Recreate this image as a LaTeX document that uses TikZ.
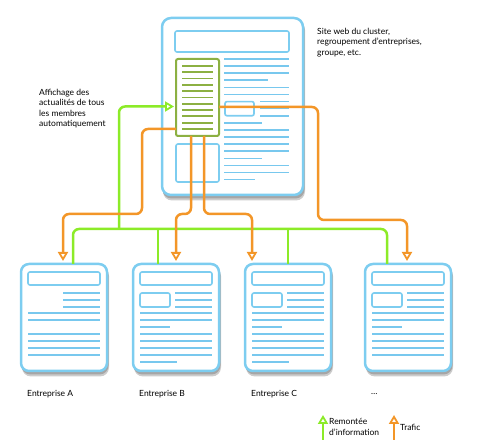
\documentclass[tikz,border=0pt]{standalone}
\usepackage{fontspec}
\setmainfont{Lato}
\usetikzlibrary{arrows.meta, calc, backgrounds}

\definecolor{framecol}{RGB}{125,205,240}
\definecolor{linecol}{RGB}{120,200,238}
\definecolor{feedcol}{RGB}{140,176,66}
\definecolor{infocol}{RGB}{140,235,40}
\definecolor{trafcol}{RGB}{243,150,40}

\tikzset{
  page/.style={draw=framecol, fill=white, line width=2.5pt, rounded corners=9pt,
    inner sep=0pt, outer sep=0pt},
  pageshadow/.style={fill=black!#1, rounded corners=9pt},
  block/.style={draw=framecol, line width=1.6pt, rounded corners=2pt},
  textline/.style={draw=linecol, line width=1.6pt},
  feed/.style={draw=feedcol, fill=white, line width=2pt, rounded corners=2pt,
    inner sep=0pt, outer sep=0pt, minimum width=43pt, minimum height=77pt},
  feedline/.style={draw=feedcol, line width=1.8pt},
  opentip/.style={-{Triangle[open, length=9pt, width=10pt, line width=1.8pt]}},
  info/.style={draw=infocol, line width=2.5pt, rounded corners=6pt},
  traffic/.style={draw=trafcol, line width=2.5pt, rounded corners=6pt, opentip, shorten >=3pt},
  note/.style={align=left, inner sep=0pt, font=\fontsize{8.5}{10.3}\selectfont}
}

\begin{document}
\begin{tikzpicture}[x=1pt, y=-1pt]
  \useasboundingbox (0,0) rectangle (480,446);

  % Site web du cluster
  \node[page, minimum width=141pt, minimum height=177pt] (site) at (232.5,106.5) {};
  \begin{scope}[shift={(site.north west)}]
    \draw[block] (13,13) rectangle (127,34);
    \draw[block] (14,126) rectangle (57,164);
    \draw[block] (63,83.6) rectangle (92,97.8);
    \foreach \i/\xa/\xb in {0/62/127, 1/62/127, 2/62/127, 3/62/106, 4/62/127, 5/62/127,
        6/98/127, 7/98/127, 8/98/127, 9/62/100, 10/62/127, 11/62/127, 12/62/127,
        13/62/127, 14/62/100, 15/62/127, 16/62/127, 17/62/93}
      \draw[textline] (\xa,41+7.1*\i) -- (\xb,41+7.1*\i);
  \end{scope}

  % Bloc des actualites
  \node[feed] (feed) at (197.5,97.5) {};
  \foreach \i in {0,...,10}
    \draw[feedline] ($(feed.north west)+(6,7+6.3*\i)$) -- ++(31,0);

  % Sites des entreprises
  \foreach \name/\cx/\hasbox/\last in {pA/64/0/0, pB/176/1/1, pC/288/1/1, pD/408/1/0} {
    \node[page, rounded corners=8pt, minimum width=86pt, minimum height=107pt] (\name) at (\cx,317.5) {};
    \begin{scope}[shift={(\name.north west)}]
      \draw[block] (7,8) rectangle (79,21);
      \foreach \y in {29,36,43}
        \draw[textline] (42,\y) -- (79,\y);
      \foreach \y in {49,56,70,77,84,91}
        \draw[textline] (7,\y) -- (79,\y);
      \ifnum\hasbox=1
        \draw[block] (7,29) rectangle (37,43);
        \draw[textline] (7,63) -- (37,63);
      \fi
      \ifnum\last=1
        \draw[textline] (7,98) -- (44,98);
      \fi
    \end{scope}
  }

  % Ombres des pages
  \begin{scope}[on background layer]
    \foreach \name in {site,pA,pB,pC,pD} {
      \fill[pageshadow=20] ($(\name.north west)+(1,3)$) rectangle ($(\name.south east)+(2,5.5)$);
      \fill[pageshadow=35] ($(\name.north west)+(0.5,2)$) rectangle ($(\name.south east)+(1.5,3.5)$);
    }
  \end{scope}

  % Remontee d'information (vert)
  \coordinate (tap) at (119,229);
  \draw[info] ($(pA.north)+(9,0)$) -- ++(0,-35) -| ($(pD.north)+(-21,0)$);
  \draw[info] ($(pB.north)+(-18,0)$) -- ++(0,-35);
  \draw[info] (pC.north) -- ++(0,-35);
  \draw[info, opentip, shorten >=2pt] (tap) |- ($(feed.west)+(0,9)$);

  % Trafic (orange)
  \draw[traffic] ($(feed.west)+(0,31.5)$) -| ($(pA.north)+(78,-50)$) -| ($(pA.north)+(-1,0)$);
  \draw[traffic] ($(feed.south)+(-6.5,0)$) |- ($(pB.north)+(0,-50)$) -- (pB.north);
  \draw[traffic] ($(feed.south)+(6.5,0)$) |- ($(pC.north)+(-36,-50)$) -- ($(pC.north)+(-36,0)$);
  \draw[traffic] ($(feed.east)+(0,9.5)$) -| ($(pD.north)+(-90,-44)$) -| ($(pD.north)+(-1,0)$);

  % Textes
  \node[note, anchor=north west] (feednote) at (39,89) {Affichage des\\actualités de tous\\les membres\\automatiquement};
  \node[note, anchor=north west] (sitenote) at (317,28) {Site web du cluster,\\regroupement d'entreprises,\\groupe, etc.};
  \foreach \name/\txt in {pA/Entreprise A, pB/Entreprise B, pC/Entreprise C}
    \node[note, anchor=west] (\name-label) at ($(\name.south west)+(6,23)$) {\txt};
  \node[note, anchor=west] (pD-label) at ($(pD.south west)+(6,23)$) {\ldots};

  % Legende
  \coordinate (infoleg) at (323,440);
  \coordinate (trafleg) at (394,440);
  \draw[info, opentip] (infoleg) -- ++(0,-25);
  \draw[draw=trafcol, line width=2.5pt, opentip] (trafleg) -- ++(0,-25);
  \node[note, anchor=west] (infotxt) at (329,427) {Remontée\\d'information};
  \node[note, anchor=west] (traftxt) at (400,427) {Trafic};
\end{tikzpicture}
\end{document}
